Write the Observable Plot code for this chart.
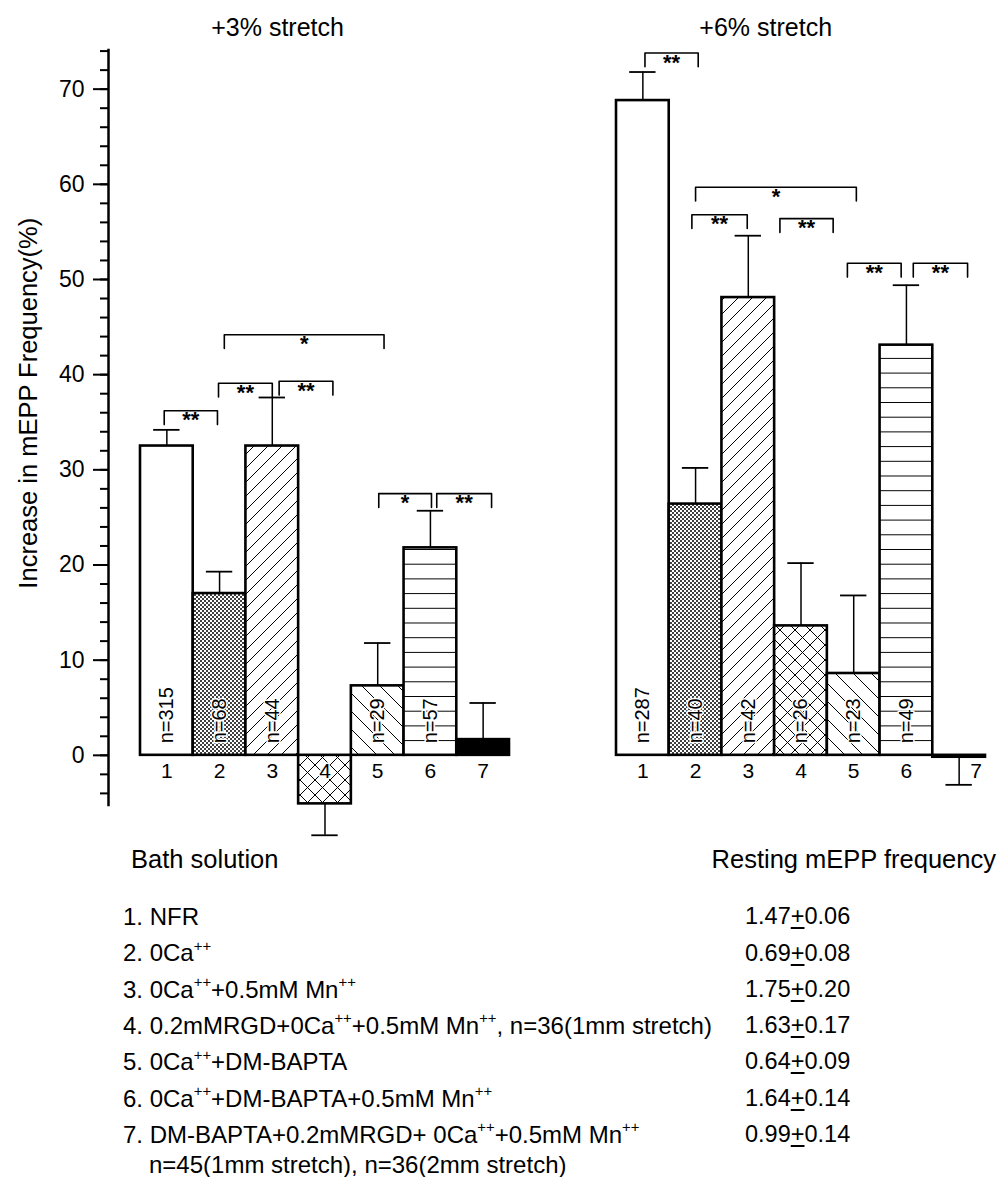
<!DOCTYPE html>
<html><head><meta charset="utf-8">
<script src="https://cdn.jsdelivr.net/npm/d3@7"></script>
<script src="https://cdn.jsdelivr.net/npm/@observablehq/plot@0.6"></script>
<style>
html,body{margin:0;padding:0;background:#fff;overflow:hidden;}
#wrap{position:relative;width:999px;height:1177px;font-family:"Liberation Sans",Arial,sans-serif;color:#000;}
#chart{position:absolute;left:0;top:0;}
.t{position:absolute;white-space:nowrap;line-height:1;}
.t sup{font-size:0.62em;vertical-align:0;position:relative;top:-0.7em;line-height:0;}
.pm{text-decoration:underline;text-underline-offset:3px;}
</style></head><body><div id="wrap"><div id="chart"></div></div>
<script>
// ---------- data ----------
const groups = [1, 2, 3, 4, 5, 6, 7];
const panelTitles = ["+3% stretch", "+6% stretch"];
const yLabel = "Increase in mEPP Frequency(%)";
// +3% stretch
const mean3 = [32.5, 17.0, 32.5, -5.1, 7.3, 21.8, 1.65];
const sem3  = [1.7, 2.3, 5.1, 3.3, 4.5, 3.9, 3.85];
const n3    = [315, 68, 44, null, 29, 57, null];
// +6% stretch
const mean6 = [68.8, 26.4, 48.1, 13.6, 8.6, 43.1, -0.2];
const sem6  = [3.0, 3.8, 6.5, 6.6, 8.2, 6.3, 2.9];
const n6    = [287, 40, 42, 26, 23, 49, null];
// significance brackets (bar-index units) for each panel
const sig3From = [0.95, 1.98, 3.13, 2.09, 5.02, 6.12];
const sig3To   = [1.96, 3.00, 4.15, 5.12, 6.02, 7.16];
const sig3Top  = [36.2, 39.1, 39.3, 44.2, 27.5, 27.5];
const sig3Lab  = ["**", "**", "**", "*", "*", "**"];
const sig6From = [1.04, 2.00, 1.93, 3.60, 4.88, 6.13];
const sig6To   = [2.05, 5.05, 2.98, 4.61, 5.90, 7.16];
const sig6Top  = [73.8, 59.7, 56.8, 56.4, 51.7, 51.7];
const sig6Lab  = ["**", "*", "**", "**", "**", "**"];
// y axis ticks
const majorTicks = [0, 10, 20, 30, 40, 50, 60, 70];
const minorTicks = d3.range(-4, 75, 2);
const axisExtent = [-5.4, 74.2];
// table
const bathSolutions = [
  "NFR",
  "0Ca^{++}",
  "0Ca^{++}+0.5mM Mn^{++}",
  "0.2mMRGD+0Ca^{++}+0.5mM Mn^{++}, n=36(1mm stretch)",
  "0Ca^{++}+DM-BAPTA",
  "0Ca^{++}+DM-BAPTA+0.5mM Mn^{++}",
  "DM-BAPTA+0.2mMRGD+ 0Ca^{++}+0.5mM Mn^{++}"
];
const bathNote = "n=45(1mm stretch), n=36(2mm stretch)";
const restMean = ["1.47", "0.69", "1.75", "1.63", "0.64", "1.64", "0.99"];
const restSem  = ["0.06", "0.08", "0.20", "0.17", "0.09", "0.14", "0.14"];

// ---------- layout / style ----------
const offsets = [0, 9.03];
const titleX = [2.6, 2.83];
const titleY = 76.4;
const yLabelAt = 37;
const fills = ["white", "url(#p-dots)", "url(#p-fwd)", "url(#p-cross)", "url(#p-back)", "url(#p-hor)", "black"];
const capHalf = 0.25, legLen = 1.45;

const rows = [];
[[mean3, sem3, n3], [mean6, sem6, n6]].forEach(([m, s, n], p) => {
  groups.forEach((g, i) => {
    rows.push({panel: p, group: g, x1: offsets[p] + i, x2: offsets[p] + i + 1, xc: offsets[p] + i + 0.5,
      value: m[i], n: n[i], tip: m[i] + (m[i] < 0 ? -s[i] : s[i])});
  });
});
const brackets = [];
[[sig3From, sig3To, sig3Top, sig3Lab], [sig6From, sig6To, sig6Top, sig6Lab]].forEach(([f, t, h, l], p) => {
  f.forEach((v, i) => brackets.push({id: p + "-" + i, a: offsets[p] + v - 0.5, b: offsets[p] + t[i] - 0.5, top: h[i], label: l[i]}));
});
const bracketPts = brackets.flatMap(d => [
  {id: d.id, x: d.a, y: d.top - legLen}, {id: d.id, x: d.a, y: d.top},
  {id: d.id, x: d.b, y: d.top}, {id: d.id, x: d.b, y: d.top - legLen}]);

const xDomain = [-0.607, 16.03];
const plot = Plot.plot({
  width: 999, height: 850,
  marginLeft: 108, marginRight: 14, marginTop: 3, marginBottom: 0,
  style: {fontFamily: "Liberation Sans, Arial, sans-serif", color: "black", background: "white"},
  x: {domain: xDomain, axis: null},
  y: {domain: [-10, 79]},
  color: {type: "identity"},
  marks: [
    Plot.rect(rows, {x1: "x1", x2: "x2", y1: 0, y2: "value", fill: d => fills[d.group - 1], stroke: "black", strokeWidth: 2.6}),
    Plot.ruleX(rows, {x: "xc", y1: "value", y2: "tip", stroke: "black", strokeWidth: 1.5}),
    Plot.ruleY(rows, {y: "tip", x1: d => d.xc - capHalf, x2: d => d.xc + capHalf, stroke: "black", strokeWidth: 1.8}),
    Plot.text(rows.filter(d => d.n), {x: "xc", y: 0, text: d => "n=" + d.n, rotate: -90, textAnchor: "start", dy: -12, fontSize: 20, fill: "black", stroke: "white", strokeWidth: 3}),
    Plot.text(rows.filter(d => !(d.panel === 1 && d.group === 7)), {x: "xc", y: 0, text: d => String(d.group), dy: 16, fontSize: 21, fill: "black", stroke: "white", strokeWidth: 3}),
    Plot.text(rows.filter(d => d.panel === 1 && d.group === 7), {x: "xc", y: 0, text: d => String(d.group), dy: 16, dx: 17, fontSize: 21, fill: "black"}),
    Plot.line(bracketPts, {x: "x", y: "y", z: "id", stroke: "black", strokeWidth: 1.6}),
    Plot.text(brackets, {x: d => (d.a + d.b) / 2, y: "top", text: "label", lineAnchor: "top", dy: 1, fontSize: 22, fontWeight: "bold", fill: "black"}),
    Plot.ruleX([xDomain[0]], {y1: axisExtent[0], y2: axisExtent[1], stroke: "black", strokeWidth: 2.5}),
    Plot.axisY(majorTicks, {anchor: "left", tickSize: 15, tickPadding: 9, fontSize: 23, strokeWidth: 2, label: null}),
    Plot.axisY(minorTicks, {anchor: "left", tickSize: 8, tickFormat: () => "", strokeWidth: 2, label: null}),
    Plot.text(panelTitles, {x: (d, i) => offsets[i] + titleX[i], y: titleY, text: d => d, fontSize: 25, fill: "black"}),
    Plot.text([yLabel], {frameAnchor: "left", y: () => yLabelAt, textAnchor: "middle", dx: -80, rotate: -90, text: d => d, fontSize: 25.5, fill: "black"})
  ]
});

// hatch patterns
const defs = d3.select(plot).insert("defs", ":first-child");
function pat(id, w, h, y) {
  const p = defs.append("pattern").attr("id", id).attr("patternUnits", "userSpaceOnUse")
    .attr("width", w).attr("height", h).attr("y", y || 0);
  p.append("rect").attr("width", w).attr("height", h).attr("fill", "white");
  return p;
}
const dp = pat("p-dots", 4, 4);
dp.append("circle").attr("cx", 1).attr("cy", 1).attr("r", 1.0).attr("fill", "black");
dp.append("circle").attr("cx", 3).attr("cy", 3).attr("r", 1.0).attr("fill", "black");
pat("p-fwd", 14, 14).append("path").attr("d", "M-1,1L1,-1M0,14L14,0M13,15L15,13").attr("stroke", "black").attr("stroke-width", 1);
pat("p-cross", 15, 15).append("path").attr("d", "M-1,1L1,-1M0,15L15,0M14,16L16,14M0,0L15,15M-1,14L1,16M14,-1L16,1").attr("stroke", "black").attr("stroke-width", 1);
pat("p-back", 18, 18).append("path").attr("d", "M0,0L18,18M-1,17L1,19M17,-1L19,1").attr("stroke", "black").attr("stroke-width", 1);
pat("p-hor", 10, 14.7, 5.1).append("path").attr("d", "M0,0.5H10").attr("stroke", "black").attr("stroke-width", 1);

document.getElementById("chart").appendChild(plot);

// table below the chart
const wrap = document.getElementById("wrap");
function addText(html, left, top, size, right) {
  const el = document.createElement("div");
  el.className = "t";
  el.style.fontSize = size + "px";
  el.style.top = (top - size / 2) + "px";
  if (right != null) el.style.right = right + "px"; else el.style.left = left + "px";
  el.innerHTML = html;
  wrap.appendChild(el);
}
const sup = s => s.replace(/\^\{([^}]*)\}/g, "<sup>$1</sup>");
addText("Bath solution", 131, 860, 25.5);
addText("Resting mEPP frequency", null, 860, 25.5, 3);
const rowY0 = 917, rowStep = 36.3;
bathSolutions.forEach((s, i) => {
  addText((i + 1) + ". " + sup(s), 123, rowY0 + i * rowStep, 24);
  addText(restMean[i] + '<span class="pm">+</span>' + restSem[i], 745, rowY0 + i * rowStep, 23.5);
});
addText(bathNote, 149, 1165, 24);
</script></body></html>
